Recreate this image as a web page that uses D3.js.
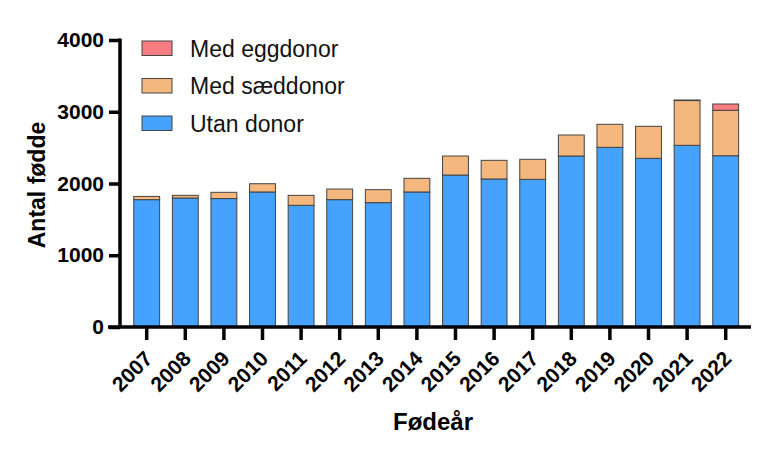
<!DOCTYPE html>
<html>
<head>
<meta charset="utf-8">
<script src="https://cdn.jsdelivr.net/npm/d3@7"></script>
<style>
  body { margin: 0; background: #fff; }
  text { font-family: "Liberation Sans", Arial, sans-serif; }
</style>
</head>
<body>
<div id="chart"></div>
<script>
// data
const years = ['2007','2008','2009','2010','2011','2012','2013','2014',
               '2015','2016','2017','2018','2019','2020','2021','2022'];
const utanDonor = [1775, 1798, 1790, 1882, 1696, 1775, 1733, 1882,
                   2118, 2063, 2058, 2383, 2504, 2351, 2532, 2387];
const medSaed   = [  45,   37,   87,  115,  139,  148,  181,  190,
                    265,  260,  279,  293,  321,  446,  624,  633];
const medEgg    = [   0,    0,    0,    0,    0,    0,    0,    0,
                      0,    0,    0,    0,    0,    0,    8,   88];
const yTicks = [0, 1000, 2000, 3000, 4000];

const series = [
    {key: 'utan', label: 'Utan donor', values: utanDonor, color: '#46a2ff'},
    {key: 'saed', label: 'Med sæddonor', values: medSaed, color: '#f4b77d'},
    {key: 'egg', label: 'Med eggdonor', values: medEgg, color: '#f97c82'}
];

const width = 770, height = 455;
const svg = d3.select('#chart').append('svg')
    .attr('width', width)
    .attr('height', height);

const x = d3.scaleBand()
    .domain(years)
    .range([127.4, 745])
    .paddingInner(0.33)
    .paddingOuter(0.165);

const y = d3.scaleLinear()
    .domain([0, 4000])
    .range([327, 40]);

let rows = years.map((yr, i) => {
    let r = {year: yr};
    series.forEach(s => { r[s.key] = s.values[i]; });
    return r;
});
let stacked = d3.stack().keys(series.map(s => s.key))(rows);

// bars
svg.append('g').selectAll('g')
    .data(stacked)
    .join('g')
    .attr('fill', (d, i) => series[i].color)
    .selectAll('rect')
    .data(d => d.filter(p => p[1] - p[0] > 0))
    .join('rect')
    .attr('x', d => x(d.data.year))
    .attr('width', x.bandwidth())
    .attr('y', d => y(d[1]))
    .attr('height', d => y(d[0]) - y(d[1]))
    .attr('stroke', '#444')
    .attr('stroke-width', 1);

// y axis
let yAxis = svg.append('g')
    .attr('transform', 'translate(120,0)')
    .call(d3.axisLeft(y).tickValues(yTicks).tickFormat(d3.format('d'))
        .tickSize(11).tickPadding(5).tickSizeOuter(0));
yAxis.select('.domain').attr('stroke', '#000').attr('stroke-width', 3.5)
    .attr('d', `M0,${y(4000) - 1.5}V${y(0)}`);
yAxis.selectAll('.tick line').attr('stroke', '#000').attr('stroke-width', 3.5);
yAxis.selectAll('.tick text')
    .attr('font-size', 21)
    .attr('font-weight', 'bold')
    .attr('fill', '#000')
    .attr('font-family', '"Liberation Sans", Arial, sans-serif');

// x axis
let xAxis = svg.append('g')
    .attr('transform', `translate(0,${y(0)})`)
    .call(d3.axisBottom(x).tickSize(13).tickSizeOuter(0));
xAxis.select('.domain').attr('stroke', '#000').attr('stroke-width', 3.5)
    .attr('d', 'M108,0H751');
xAxis.selectAll('.tick line').attr('stroke', '#000').attr('stroke-width', 3.5);
xAxis.selectAll('.tick text')
    .attr('font-size', 21)
    .attr('font-weight', 'bold')
    .attr('fill', '#000')
    .attr('font-family', '"Liberation Sans", Arial, sans-serif')
    .attr('text-anchor', 'end')
    .attr('dy', null)
    .attr('y', null)
    .attr('transform', 'translate(7,33) rotate(-45)');

// axis titles
svg.append('text')
    .attr('transform', 'translate(45,185) rotate(-90)')
    .attr('text-anchor', 'middle')
    .attr('font-size', 23)
    .attr('font-weight', 'bold')
    .text('Antal fødde');

svg.append('text')
    .attr('x', 433)
    .attr('y', 430)
    .attr('text-anchor', 'middle')
    .attr('font-size', 24)
    .attr('font-weight', 'bold')
    .text('Fødeår');

// legend, top entry first
let legend = svg.append('g')
    .selectAll('g')
    .data(series.slice().reverse())
    .join('g')
    .attr('transform', (d, i) => `translate(142,${41 + i * 37.5})`);
legend.append('rect')
    .attr('width', 30)
    .attr('height', 14.5)
    .attr('fill', d => d.color)
    .attr('stroke', '#444')
    .attr('stroke-width', 1);
legend.append('text')
    .attr('x', 48)
    .attr('y', 15.5)
    .attr('font-size', 23)
    .attr('fill', '#111')
    .text(d => d.label);
</script>
</body>
</html>
